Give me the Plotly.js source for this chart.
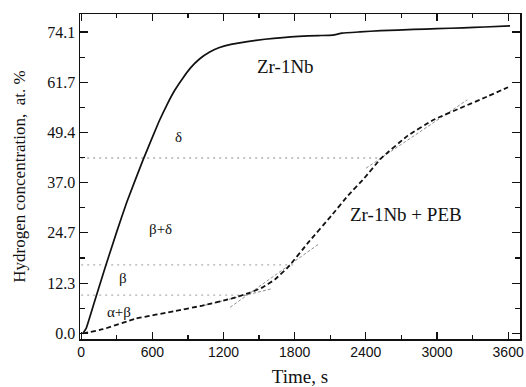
<!DOCTYPE html>
<html>
<head>
<meta charset="utf-8">
<script src="https://cdn.plot.ly/plotly-3.0.1.min.js"></script>
<style>html,body{margin:0;padding:0;background:#fff;}#chart{width:526px;height:387px;}</style>
</head>
<body>
<div id="chart"></div>
<script>
// Zr-1Nb (solid curve)
const timeZr = [15, 42, 120, 200, 300, 385, 520, 655, 720, 790, 854, 920, 1000, 1080, 1160, 1272, 1400, 1548, 1700, 1833, 2000, 2120, 2200, 2350, 2528, 2804, 3000, 3222, 3400, 3616];
const concZr = [0, 1.2, 8.5, 16, 25, 32.3, 42.5, 52, 56, 59.8, 62.6, 65.2, 67.5, 69.1, 70.2, 71.1, 71.7, 72.3, 72.7, 73.0, 73.2, 73.3, 73.8, 74.1, 74.4, 74.7, 74.9, 75.1, 75.3, 75.6];

// Zr-1Nb + PEB (dashed curve)
const timePEB = [15, 184, 460, 795, 1021, 1272, 1414, 1530, 1632, 1749, 1917, 2109, 2251, 2386, 2528, 2754, 2972, 3223, 3400, 3599];
const concPEB = [0, 1.0, 3.6, 5.5, 6.8, 8.6, 9.9, 11.3, 13.2, 16.4, 22.4, 28.9, 33.9, 38.1, 43.0, 48.6, 52.5, 55.7, 57.9, 60.5];

// Phase boundary levels (dotted horizontal lines)
const boundaryLevels = [43.1, 16.8, 9.4];
const boundaryEnds = [2528, 1790, 1380];

// Tangent lines on the PEB curve
const tangentTimes = [[1000, 1600], [1256, 2001], [2402, 3256]];
const tangentConc = [[6.6, 10.9], [6.4, 21.9], [40.6, 57.4]];

// Tick labels
const yTickVals = [0.0, 12.3, 24.7, 37.0, 49.4, 61.7, 74.1];
const yTickText = ['0.0', '12.3', '24.7', '37.0', '49.4', '61.7', '74.1'];
const xTickVals = [0, 600, 1200, 1800, 2400, 3000, 3600];

// Text labels
const labelText = ['Zr-1Nb', 'Zr-1Nb + PEB', 'δ', 'β+δ', 'β', 'α+β'];
const labelTime = [1720, 2740, 820, 670, 350, 318];
const labelConc = [65.5, 29.2, 48.2, 25.7, 13.5, 5.3];
const labelSize = [19, 19, 15, 15, 15, 15];

const serif = '"Liberation Serif", "Times New Roman", serif';
const sans = '"Liberation Sans", Arial, sans-serif';

const traces = [];
boundaryLevels.forEach((lvl, i) => {
  traces.push({x: [0, boundaryEnds[i]], y: [lvl, lvl], mode: 'lines', hoverinfo: 'skip',
    line: {color: '#b0b0b0', width: 1.3, dash: '2px,4px'}, showlegend: false});
});
tangentTimes.forEach((tt, i) => {
  traces.push({x: tt, y: tangentConc[i], mode: 'lines', hoverinfo: 'skip',
    line: {color: '#909090', width: 1, dash: '3px,2px'}, showlegend: false});
});
traces.push({x: timeZr, y: concZr, mode: 'lines', name: 'Zr-1Nb',
  line: {color: '#111', width: 1.7, shape: 'spline', smoothing: 0.3}, showlegend: false});
traces.push({x: timePEB, y: concPEB, mode: 'lines', name: 'Zr-1Nb + PEB',
  line: {color: '#111', width: 1.8, dash: '5px,3px', shape: 'spline', smoothing: 0.3}, showlegend: false});

const annotations = labelText.map((t, i) => ({
  x: labelTime[i], y: labelConc[i], xref: 'x', yref: 'y', text: t, showarrow: false,
  font: {family: serif, size: labelSize[i], color: '#111'}
}));

const layout = {
  width: 526, height: 387,
  margin: {l: 80, r: 6, t: 14, b: 48},
  paper_bgcolor: '#fff', plot_bgcolor: '#fff',
  showlegend: false,
  xaxis: {
    range: [-10, 3700], tickmode: 'array', tickvals: xTickVals,
    ticks: 'inside', ticklen: 7, tickwidth: 1.2, tickcolor: '#111',
    showline: true, linecolor: '#111', linewidth: 1.5, mirror: 'ticks',
    showgrid: false, zeroline: false,
    tickfont: {family: sans, size: 14, color: '#111'},
    minor: {tickmode: 'array', tickvals: [300, 900, 1500, 2100, 2700, 3300], ticks: 'inside', ticklen: 4, tickcolor: '#111', showgrid: false},
    title: {text: 'Time, s', font: {family: serif, size: 19, color: '#111'}, standoff: 11}
  },
  yaxis: {
    range: [-1.4, 78.5], tickmode: 'array', tickvals: yTickVals, ticktext: yTickText,
    ticks: 'inside', ticklen: 8, tickwidth: 1.2, tickcolor: '#111',
    showline: true, linecolor: '#111', linewidth: 1.5, mirror: 'ticks',
    showgrid: false, zeroline: false,
    tickfont: {family: serif, size: 16, color: '#111'},
    minor: {tickmode: 'array', tickvals: [6.15, 18.5, 30.85, 43.2, 55.55, 67.9], ticks: 'inside', ticklen: 5, tickcolor: '#111', showgrid: false},
    title: {text: 'Hydrogen concentration,  at. %', font: {family: serif, size: 17, color: '#111'}, standoff: 17}
  },
  annotations: annotations
};

Plotly.newPlot('chart', traces, layout, {displayModeBar: false, staticPlot: true});
</script>
</body>
</html>
